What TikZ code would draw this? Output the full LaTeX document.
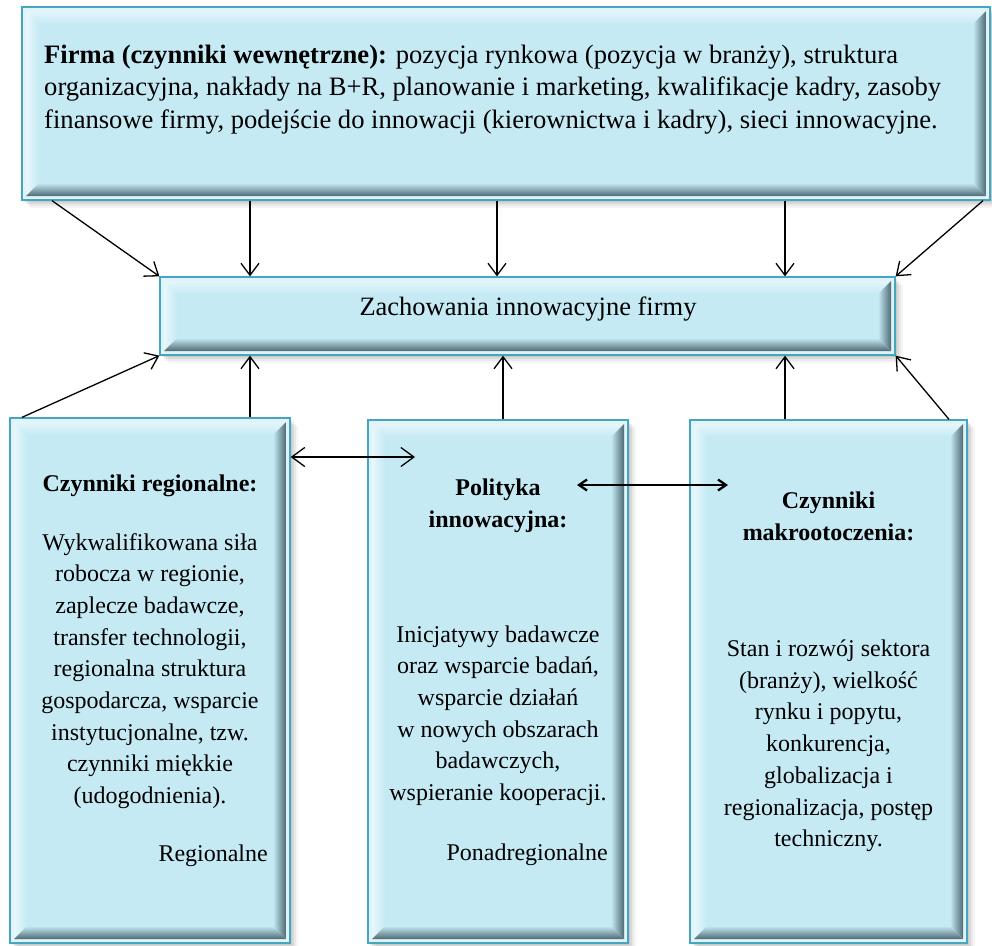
\documentclass[tikz,border=0pt]{standalone}
\usepackage{fontspec}
\setmainfont{Liberation Serif}
\usetikzlibrary{arrows.meta,fit,calc}

\definecolor{boxface}{RGB}{197,234,244}
\definecolor{boxedge}{RGB}{70,165,192}
\definecolor{bevdark}{RGB}{78,106,116}

\tikzset{
  panel/.style={draw=boxedge, line width=1.3pt, fill=boxface!55!white, inner sep=0pt, rectangle},
  conn/.style={line width=1.3pt, -{Straight Barb[length=12pt,width=18pt]}},
  bothconn/.style={line width=1.3pt,
    {Straight Barb[length=13pt,width=19pt]}-{Straight Barb[length=13pt,width=19pt]}},
  boldconn/.style={line width=2.3pt,
    {Straight Barb[length=8pt,width=11pt]}-{Straight Barb[length=8pt,width=11pt]}},
  txt/.style={inner sep=0pt, font=\fontsize{24}{31.7}\selectfont, align=center, anchor=base},
  head/.style={txt, font={\fontsize{24}{32.5}\selectfont\bfseries}},
}

% bevelled panel: name, left, top, right, bottom
% (multi-line texts below are placed by the baseline of their last line)
\newcommand\bevelpanel[5]{%
  \foreach \s/\op in {8/0.04,6/0.05,4/0.07,2/0.08}{%
    \fill[black,opacity=\op] (#2+\s,#3+\s) rectangle (#4+\s,#5+\s);}
  \node[panel, fit={(#2,#3) (#4,#5)}] (#1) {};
  \shade[top color=boxface!45!white, middle color=white, bottom color=boxface]
    (#2+4,#3+4) -- (#4-4,#3+4) -- (#4-17,#3+17) -- (#2+17,#3+17) -- cycle;
  \shade[left color=boxface!40!white, right color=boxface]
    (#2+4,#3+4) -- (#2+17,#3+17) -- (#2+17,#5-17) -- (#2+4,#5-4) -- cycle;
  \shade[left color=boxface, right color=bevdark]
    (#4-4,#3+4) -- (#4-17,#3+17) -- (#4-17,#5-17) -- (#4-4,#5-4) -- cycle;
  \shade[top color=boxface, bottom color=bevdark]
    (#2+4,#5-4) -- (#2+17,#5-17) -- (#4-17,#5-17) -- (#4-4,#5-4) -- cycle;
  \fill[boxface] (#2+17,#3+17) rectangle (#4-17,#5-17);
}

\begin{document}
\begin{tikzpicture}[x=1pt,y=-1pt]
\useasboundingbox (0,0) rectangle (992,945);
\clip (0,0) rectangle (992,945);

% panels
\bevelpanel{firma}{22}{7}{990}{200}
\bevelpanel{zach}{160}{277}{895}{355}
\bevelpanel{reg}{10}{418}{290}{943}
\bevelpanel{poli}{368}{420}{628}{943}
\bevelpanel{makro}{690}{420}{967}{943}

% columns where the connectors run
\coordinate (xa) at (250,0);
\coordinate (xb) at (497,0);
\coordinate (xc) at (785,0);
\coordinate (xd) at (503,0);
\coordinate (fl) at (52,0);
\coordinate (fr) at (983,0);
\coordinate (bl) at (22,0);
\coordinate (br) at (949,0);
\coordinate (la) at (415,457);
\coordinate (ma) at (577,485);
\coordinate (mb) at (728,485);

% firm-level factors feeding the behaviour box
\draw[conn] (fl |- firma.south) -- (zach.north west);
\draw[conn] (xa |- firma.south) -- (xa |- zach.north);
\draw[conn] (xb |- firma.south) -- (xb |- zach.north);
\draw[conn] (xc |- firma.south) -- (xc |- zach.north);
\draw[conn] (fr |- firma.south) -- (zach.north east);

% external factors feeding the behaviour box
\draw[conn] (bl |- reg.north) -- (zach.south west);
\draw[conn] (xa |- reg.north) -- (xa |- zach.south);
\draw[conn] (xd |- poli.north) -- (xd |- zach.south);
\draw[conn] (xc |- makro.north) -- (xc |- zach.south);
\draw[conn] (br |- makro.north) -- (zach.south east);

% links between the lower panels
\draw[bothconn] (reg.east |- la) -- (la);
\draw[boldconn] (ma) -- (mb);

% texts
\node[txt, anchor=base west, align=left, font=\fontsize{26.6}{32.5}\selectfont] (firmatxt) at (44,128)
  {\textbf{Firma (czynniki wewnętrzne):} pozycja rynkowa (pozycja w branży), struktura\\
   organizacyjna, nakłady na B+R, planowanie i marketing, kwalifikacje kadry, zasoby\\
   finansowe firmy, podejście do innowacji (kierownictwa i kadry), sieci innowacyjne.};

\node[txt, font=\fontsize{26.5}{30}\selectfont] (zachtxt) at (528,315) {Zachowania innowacyjne firmy};

\node[head] (regtitle) at (150,491.7) {Czynniki regionalne:};
\node[txt] (regbody) at (150,803.6)
  {Wykwalifikowana siła\\ robocza w regionie,\\ zaplecze badawcze,\\ transfer technologii,\\
   regionalna struktura\\ gospodarcza, wsparcie\\ instytucjonalne, tzw.\\ czynniki miękkie\\
   (udogodnienia).};
\node[txt, anchor=base east] (reglabel) at (268,861.7) {Regionalne};

\node[head] (polititle) at (498,527.5) {Polityka\\ innowacyjna:};
\node[txt] (polibody) at (498,800.5)
  {Inicjatywy badawcze\\ oraz wsparcie badań,\\ wsparcie działań\\ w nowych obszarach\\
   badawczych,\\ wspieranie kooperacji.};
\node[txt, anchor=base east] (polilabel) at (608,860) {Ponadregionalne};

\node[head] (makrotitle) at (828.5,540.5) {Czynniki\\ makrootoczenia:};
\node[txt] (makrobody) at (828.5,846.7)
  {Stan i rozwój sektora\\ (branży), wielkość\\ rynku i popytu,\\ konkurencja,\\
   globalizacja i\\ regionalizacja, postęp\\ techniczny.};
\end{tikzpicture}
\end{document}
